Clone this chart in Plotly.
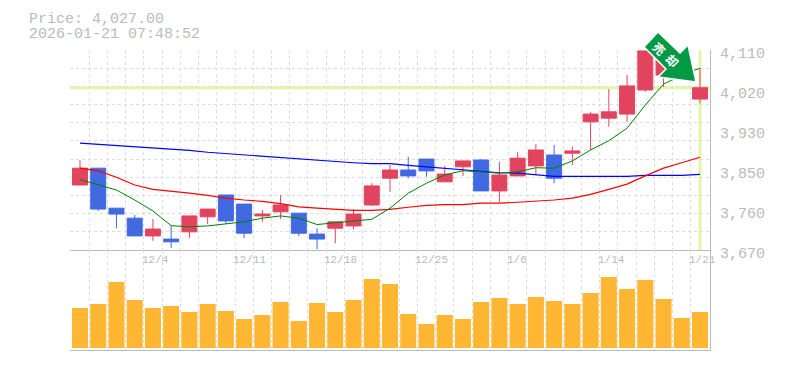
import plotly.graph_objects as go

# chart values
opens = [3813, 3850, 3762, 3740, 3701, 3694, 3710, 3743, 3791, 3771, 3745, 3754, 3751, 3705, 3718, 3723, 3769, 3828, 3846, 3870, 3820, 3853, 3868, 3800, 3833, 3855, 3879, 3883, 3952, 3960, 3969, 4022, 4055, 4088, 4002]
closes = [3850, 3760, 3749, 3701, 3716, 3688, 3745, 3760, 3734, 3707, 3749, 3769, 3707, 3694, 3732, 3749, 3811, 3846, 3833, 3844, 3837, 3866, 3800, 3835, 3872, 3890, 3828, 3888, 3969, 3974, 4031, 4108, 4099, 4062, 4027]
highs = [3868, 3850, 3762, 3747, 3738, 3723, 3745, 3760, 3791, 3771, 3758, 3791, 3751, 3718, 3732, 3760, 3817, 3857, 3875, 3870, 3855, 3866, 3870, 3864, 3886, 3903, 3901, 3897, 3974, 4024, 4055, 4108, 4104, 4095, 4070]
lows = [3813, 3756, 3718, 3701, 3690, 3674, 3696, 3727, 3727, 3696, 3732, 3738, 3701, 3672, 3685, 3716, 3767, 3798, 3828, 3831, 3820, 3833, 3800, 3776, 3833, 3835, 3817, 3857, 3890, 3941, 3952, 4018, 4029, 4055, 3993]

ma_short = [3825, 3813, 3802, 3780, 3756, 3723.5, 3721, 3723, 3728, 3732, 3740, 3745, 3740, 3726, 3730, 3734.5, 3737.5, 3762, 3795, 3817, 3835, 3844.5, 3842, 3839, 3842, 3851, 3850, 3866, 3890, 3910.5, 3938, 3989, 4035, 4055, 4070]
ma_mid = [3850, 3844, 3830, 3813, 3803.5, 3800, 3795, 3790, 3784, 3780, 3777, 3772, 3765, 3762, 3759, 3757, 3757, 3759.5, 3764, 3768, 3770, 3770, 3773, 3773, 3775, 3777, 3780, 3784, 3792.5, 3803.5, 3815, 3833, 3850, 3862, 3874]
ma_long = [3905, 3902.5, 3900, 3897, 3894, 3891.5, 3889, 3885, 3882, 3880, 3876, 3874, 3870, 3867, 3864, 3862, 3860, 3860, 3856, 3853, 3850, 3847.5, 3844.5, 3840, 3839, 3836, 3832, 3832, 3832, 3832, 3832, 3834, 3834, 3834, 3836.5]
volumes = [40, 44, 66, 48, 40, 42, 36, 44, 37, 29, 33, 46, 27, 45, 36, 48, 69, 64, 34, 24, 33, 29, 46, 50, 44, 51, 47, 44, 55, 71, 59, 68, 49, 30, 36]
date_positions = [4, 9, 14, 19, 24, 29, 34]
date_labels = ["12/4", "12/11", "12/18", "12/25", "1/6", "1/14", "1/21"]
price_ticks = [4110, 4022, 3934, 3846, 3758, 3670]
price_labels = ["4,110", "4,020", "3,930", "3,850", "3,760", "3,670"]
current_price = 4027
header_lines = ["Price: 4,027.00", "2026-01-21 07:48:52"]
x_index = list(range(len(opens)))

RED, BLUE, ORANGE = "#e2445f", "#4169e1", "#ffb733"
GRID, TEXT, AXIS, HILITE = "#dddddd", "#bbbbbb", "#bbbbbb", "#e3f6a8"
FONT = "Liberation Mono"

fig = go.Figure()
fig.add_trace(go.Scatter(x=x_index, y=ma_long, mode="lines", line=dict(color="#0000ff", width=1.2), xaxis="x", yaxis="y"))
fig.add_trace(go.Scatter(x=x_index, y=ma_mid, mode="lines", line=dict(color="#ff0000", width=1.2), xaxis="x", yaxis="y"))
fig.add_trace(go.Scatter(x=x_index, y=ma_short, mode="lines", line=dict(color="#008000", width=1), xaxis="x", yaxis="y"))
fig.add_trace(go.Candlestick(
    x=x_index, open=opens, high=highs, low=lows, close=closes, whiskerwidth=0,
    increasing=dict(line=dict(color=RED, width=1), fillcolor=RED),
    decreasing=dict(line=dict(color=BLUE, width=1), fillcolor=BLUE),
    xaxis="x", yaxis="y"))
fig.add_trace(go.Bar(x=x_index, y=volumes, marker=dict(color=ORANGE, line=dict(width=0)), xaxis="x2", yaxis="y2"))

xgrid = dict(range=[-0.548, 34.548], tick0=-0.5, dtick=1, showgrid=True, gridcolor=GRID, griddash="3px,3px", gridwidth=1,
             showticklabels=False, ticks="", zeroline=False, showline=True, linecolor=AXIS, linewidth=1,
             rangeslider=dict(visible=False))
fig.update_layout(
    width=785, height=370, autosize=False,
    margin=dict(l=70, r=75, t=50, b=20, pad=0),
    paper_bgcolor="white", plot_bgcolor="white", showlegend=False, bargap=0.12, boxgap=0.18, boxgroupgap=0,
    xaxis=dict(**xgrid, domain=[0, 1], anchor="y"),
    xaxis2=dict(**xgrid, domain=[0, 1], anchor="y2"),
    yaxis=dict(domain=[1 / 3, 1], anchor="x", side="right", range=[3670, 4110], tickvals=price_ticks, showticklabels=False,
               showgrid=False, zeroline=False, showline=True, linecolor=AXIS, linewidth=1, ticks="",
               minor=dict(tick0=3670, dtick=40, showgrid=True, gridcolor=GRID, griddash="3px,3px", gridwidth=1, ticks="")),
    yaxis2=dict(domain=[0, 1 / 3], anchor="x2", side="right", range=[-2, 98], showgrid=False, zeroline=False,
                showline=True, linecolor=AXIS, linewidth=1, showticklabels=False, ticks=""),
)

fig.add_shape(type="line", xref="x domain", yref="y", x0=0, x1=1, y0=current_price, y1=current_price,
              line=dict(color=HILITE, width=3), layer="below")
fig.add_shape(type="line", xref="x", yref="y domain", x0=x_index[-1], x1=x_index[-1], y0=0, y1=1,
              line=dict(color=HILITE, width=3), layer="below")

# Signal arrow decoration, page pixels converted to paper space
def px(x, y):
    return (x - 70) / 640, (350 - y) / 300
arrow = [(658, 32), (644, 47), (666, 69), (658, 77), (696, 82), (688, 45), (680, 53)]
pts = [px(*p) for p in arrow]
path = "M " + " L ".join(f"{a:.5f},{b:.5f}" for a, b in pts) + " Z"
fig.add_shape(type="path", xref="paper", yref="paper", path=path, fillcolor="#009944", line=dict(color="white", width=1.5), layer="above")
for label, (mx, my) in zip(["売", "却"], [(660, 48), (673, 60)]):
    ax, ay = px(mx, my)
    fig.add_annotation(x=ax, y=ay, xref="paper", yref="paper", text=f"<b>{label}</b>", showarrow=False, textangle=45,
                       xanchor="center", yanchor="middle",
                       font=dict(family="Noto Sans CJK JP", size=12, color="white"))

for value, label in zip(price_ticks, price_labels):
    fig.add_annotation(x=1, y=value, xref="paper", yref="y", text=label, showarrow=False, xanchor="left", yanchor="middle",
                       xshift=8, yshift=-4, font=dict(family=FONT, size=15, color=TEXT))
for pos, label in zip(date_positions, date_labels):
    fig.add_annotation(x=pos - 0.5, y=(350 - 260) / 300, xref="x", yref="paper", text=label, showarrow=False,
                       xanchor="left", yanchor="middle", xshift=-4, font=dict(family=FONT, size=11, color=TEXT))
for line, py in zip(header_lines, [19, 34]):
    ax, ay = px(29, py)
    fig.add_annotation(x=ax, y=ay, xref="paper", yref="paper", text=line, showarrow=False, xanchor="left",
                       yanchor="middle", xshift=-2, font=dict(family=FONT, size=15, color=TEXT))

fig.write_html("out.html", post_script="document.body.style.margin='0';", config={"displayModeBar": False})
